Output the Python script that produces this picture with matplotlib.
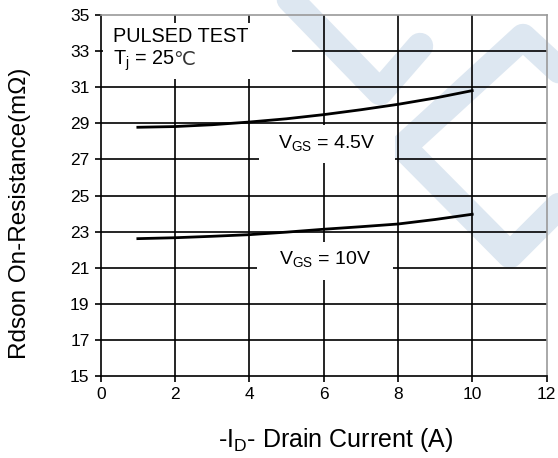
import matplotlib
matplotlib.use('Agg')
import matplotlib.pyplot as plt
from matplotlib.patches import Rectangle
import numpy as np

plt.rcParams['font.family'] = ['Liberation Sans', 'DejaVu Sans']
plt.rcParams['mathtext.fontset'] = 'custom'
plt.rcParams['mathtext.rm'] = 'Liberation Sans'
plt.rcParams['mathtext.it'] = 'Liberation Sans'

# drain current (A) and Rdson (mOhm)
i_d = [1, 2, 3, 4, 5, 6, 7, 8, 9, 10]
r_vgs45 = [28.78, 28.82, 28.92, 29.07, 29.25, 29.48, 29.75, 30.05, 30.40, 30.81]
r_vgs10 = [22.61, 22.66, 22.74, 22.83, 22.97, 23.13, 23.27, 23.42, 23.67, 23.96]

x_ticks = [0, 2, 4, 6, 8, 10, 12]
y_ticks = [15, 17, 19, 21, 23, 25, 27, 29, 31, 33, 35]

W, H = 558, 458
fig = plt.figure(figsize=(W / 100, H / 100), dpi=100)
fig.patch.set_facecolor('white')

# watermark layer in pixel coords
bg = fig.add_axes([0, 0, 1, 1], zorder=0)
bg.set_xlim(0, W)
bg.set_ylim(H, 0)
bg.axis('off')
wm = '#dde7f1'
wm_kw = dict(color=wm, lw=19, solid_capstyle='round', solid_joinstyle='round')
bg.plot([283, 380, 420], [-8, 92, 46], **wm_kw)
bg.plot([575, 523, 403, 510, 575], [85, 37, 147, 255, 190], **wm_kw)

ax = fig.add_axes([100.7 / W, 1 - 376 / H, 445.8 / W, 361 / H], zorder=1)
ax.set_facecolor('none')
ax.set_xlim(0, 12)
ax.set_ylim(15, 35)

for x in x_ticks[1:-1]:
    ax.axvline(x, color='black', lw=1.2, zorder=1)
for y in y_ticks[1:-1]:
    ax.axhline(y, color='black', lw=1.2, zorder=1)

for s in ['left', 'bottom']:
    ax.spines[s].set_color('black')
    ax.spines[s].set_linewidth(1.2)
for s in ['top', 'right']:
    ax.spines[s].set_color('#9a9a9a')
    ax.spines[s].set_linewidth(1.2)

# white label boxes that cut the grid
ax.add_patch(Rectangle((0.05, 31.45), 5.1, 3.1, facecolor='white', edgecolor='none', zorder=2))
ax.add_patch(Rectangle((4.26, 26.8), 3.66, 2.1, facecolor='white', edgecolor='none', zorder=2))
ax.add_patch(Rectangle((4.21, 20.32), 3.66, 2.1, facecolor='white', edgecolor='none', zorder=2))

ax.plot(i_d, r_vgs45, color='black', lw=2.0, zorder=3)
ax.plot(i_d, r_vgs10, color='black', lw=2.0, zorder=3)

ax.set_xticks(x_ticks)
ax.set_yticks(y_ticks)
ax.tick_params(direction='out', length=4, width=1.2, labelsize=12.5, colors='black', pad=4)

ax.text(0.33, 33.8, 'PULSED TEST', fontsize=14.3, ha='left', va='center', zorder=4)
tj = ax.text(0.33, 32.45, r'T$_\mathregular{j}$ = 25', fontsize=14.3, ha='left',
             va='center', zorder=4)
ax.annotate('℃', xy=(1, 0.58), xycoords=tj, xytext=(-1.5, 0), textcoords='offset points',
            fontsize=14, ha='left', va='center', color='#333333',
            family=['DejaVu Sans'], zorder=4)

ax.text(6.08, 27.9, r'V$_\mathregular{GS}$ = 4.5V', fontsize=14, ha='center', va='center', zorder=4)
ax.text(6.04, 21.5, r'V$_\mathregular{GS}$ = 10V', fontsize=14, ha='center', va='center', zorder=4)

fig.text(335 / W, 1 - 440 / H, r'-I$_\mathregular{D}$- Drain Current (A)', fontsize=18,
         ha='center', va='center')
fig.text(20 / W, 1 - 213 / H, 'Rdson On-Resistance(mΩ)', fontsize=17.5, rotation=90,
         ha='center', va='center')

fig.savefig('out.png', dpi=100, facecolor='white')
